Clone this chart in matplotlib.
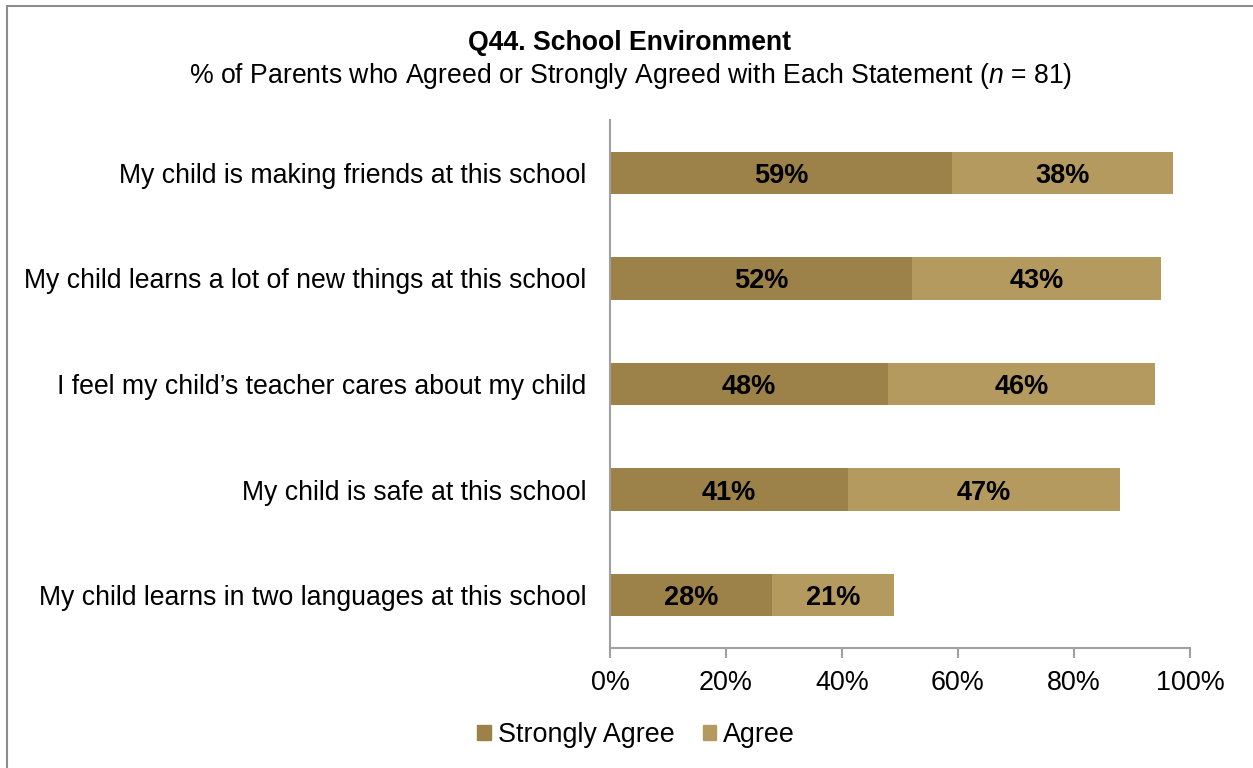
import matplotlib.pyplot as plt
from matplotlib.patches import Rectangle, Patch

plt.rcParams['font.family'] = ['Liberation Sans', 'DejaVu Sans']
plt.rcParams['mathtext.fontset'] = 'custom'
plt.rcParams['mathtext.rm'] = 'Liberation Sans'
plt.rcParams['mathtext.it'] = 'Liberation Sans:italic'

statements = [
    "My child is making friends at this school",
    "My child learns a lot of new things at this school",
    "I feel my child\u2019s teacher cares about my child",
    "My child is safe at this school",
    "My child learns in two languages at this school",
]
strongly_agree = [59, 52, 48, 41, 28]
agree = [38, 43, 46, 47, 21]
x_ticks = [0, 20, 40, 60, 80, 100]

dark = '#9C8149'
light = '#B49A5F'
grey = '#A0A0A0'

fig = plt.figure(figsize=(12.53, 7.68), dpi=100)
ax = fig.add_axes([610 / 1253, 1 - 648 / 768, 580 / 1253, 528 / 768])

# outer frame, open on the right and bottom edges
fig.patches.append(Rectangle((7 / 1253, -0.1), 1.2, 1 - 6 / 768 + 0.1,
                             transform=fig.transFigure, fill=False,
                             edgecolor='#8C8C8C', linewidth=1.5))

y = list(range(len(statements)))
ax.barh(y, strongly_agree, height=0.4, color=dark, label='Strongly Agree')
ax.barh(y, agree, left=strongly_agree, height=0.4, color=light, label='Agree')

for i in y:
    sa, a = strongly_agree[i], agree[i]
    ax.text(sa / 2, i, f'{sa}%', ha='center', va='center_baseline',
            fontsize=19.5, fontweight='bold', color='black')
    ax.text(sa + a / 2, i, f'{a}%', ha='center', va='center_baseline',
            fontsize=19.5, fontweight='bold', color='black')

ax.set_xlim(0, 100)
ax.set_ylim(len(statements) - 0.5, -0.5)
ax.set_yticks(y)
ax.set_yticklabels(statements, fontsize=19.2)
ax.set_xticks(x_ticks)
ax.set_xticklabels([f'{t}%' for t in x_ticks], fontsize=19.4)
ax.tick_params(axis='y', length=0, pad=17)
ax.tick_params(axis='x', length=7, width=1.5, color=grey, pad=9)

for side in ('top', 'right'):
    ax.spines[side].set_visible(False)
for side in ('left', 'bottom'):
    ax.spines[side].set_color(grey)
    ax.spines[side].set_linewidth(1.5)

fig.text(630 / 1253, 1 - 43 / 768, 'Q44. School Environment', ha='center',
         va='center', fontsize=19.2, fontweight='bold')
fig.text(631 / 1253, 1 - 76 / 768,
         r'% of Parents who Agreed or Strongly Agreed with Each Statement ($\it{n}$ = 81)',
         ha='center', va='center', fontsize=19.2)

handles = [Patch(color=dark), Patch(color=light)]
fig.legend(handles, ['Strongly Agree', 'Agree'], loc='center',
           bbox_to_anchor=(636 / 1253, 1 - 735 / 768), ncol=2, frameon=False,
           fontsize=19.4, handlelength=0.5, handleheight=0.5,
           handletextpad=0.26, columnspacing=1.05)

fig.savefig('out.png', dpi=100)
